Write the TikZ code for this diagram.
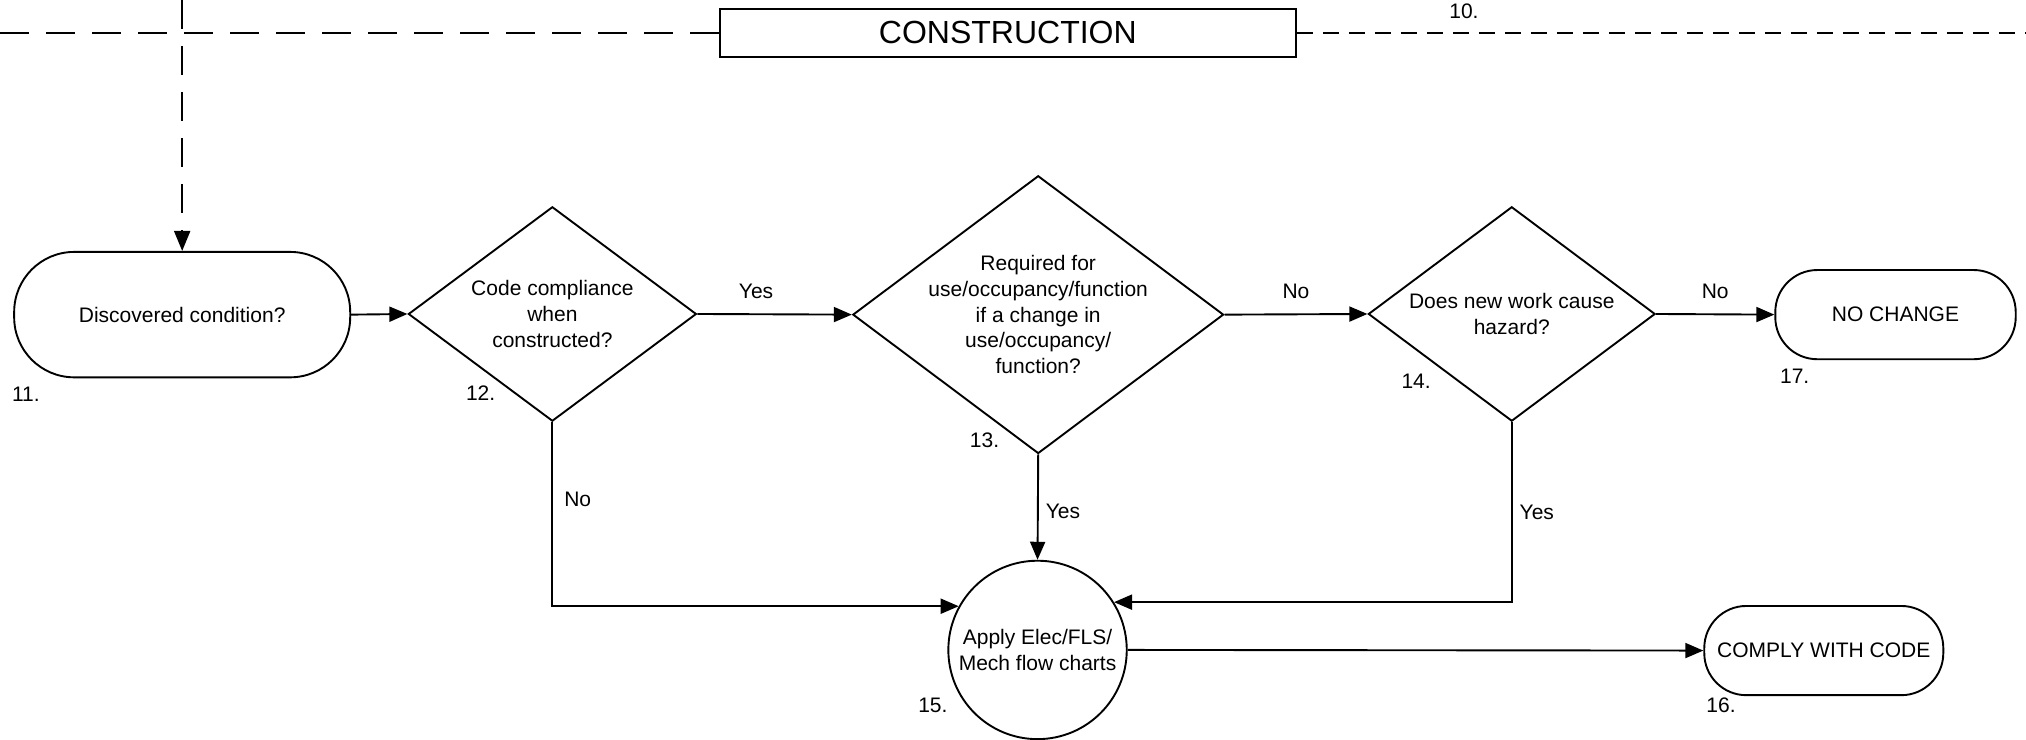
\documentclass[tikz,border=0pt]{standalone}
\usepackage{fontspec}
\setmainfont{Liberation Sans}
\usetikzlibrary{shapes.geometric,arrows.meta}
\begin{document}
\begin{tikzpicture}[x=0.646pt,y=-0.646pt,
  every node/.style={font=\fontsize{10.5}{12.9}\selectfont, inner sep=0pt},
  termbox/.style={draw, line width=0.95pt, rectangle, align=center},
  decision/.style={draw, line width=0.95pt, diamond},
  flowarrow/.style={line width=0.95pt, -{Triangle[length=9pt,width=7.5pt]}},
  longdash/.style={line width=0.95pt, dash pattern=on 14.5pt off 8.5pt},
  shortdash/.style={line width=0.95pt, dash pattern=on 8pt off 5pt},
  edgelbl/.style={anchor=west, xshift=3.5pt}
]
\useasboundingbox (0,0) rectangle (1568,572);

% header
\node[draw, line width=1.05pt, minimum width=288pt, minimum height=23.9pt,
      font=\fontsize{16}{19}\selectfont] (con) at (780,25.5) {CONSTRUCTION};
\coordinate (lft) at (0,25.5);
\coordinate (rgt) at (1568,25.5);
\coordinate (topc) at (141,0);
\draw[longdash] (lft) -- (con.west);
\draw[shortdash] (con.east) -- (rgt);
\node (l10) at (1133,8.5) {10.};

% nodes
\node[termbox, minimum width=168pt, minimum height=62.7pt, rounded corners=30pt]
  (n11) at (141,243.5) {Discovered condition?};
\node[decision, minimum width=144pt, minimum height=107.2pt] (d12) at (427.5,243) {};
\node[align=center] (t12) at (d12.center) {Code compliance\\when\\constructed?};
\node[decision, minimum width=185.4pt, minimum height=138.9pt] (d13) at (803.5,243.5) {};
\node[align=center] (t13) at (d13.center) {Required for\\use/occupancy/function\\if a change in\\use/occupancy/\\function?};
\node[decision, minimum width=143.4pt, minimum height=107.2pt] (d14) at (1170,243) {};
\node[align=center] (t14) at (d14.center) {Does new work cause\\hazard?};
\node[termbox, minimum width=120.2pt, minimum height=44.6pt, rounded corners=21pt]
  (n17) at (1467,243.5) {NO CHANGE};
\node[draw, line width=0.95pt, circle, minimum size=89.2pt, align=center]
  (c15) at (803,503) {Apply Elec/FLS/\\Mech flow charts};
\node[termbox, minimum width=119.5pt, minimum height=44.6pt, rounded corners=21pt]
  (n16) at (1411.5,503.5) {COMPLY WITH CODE};

% numbers
\node (l11) at (20,305) {11.};
\node (l12) at (372,304) {12.};
\node (l13) at (762,341) {13.};
\node (l14) at (1096,295) {14.};
\node (l17) at (1389,291) {17.};
\node (l15) at (722,546) {15.};
\node (l16) at (1332,546) {16.};

% connectors
\draw[longdash, -{Triangle[length=10pt,width=8pt]}] (topc) -- (n11.north);
\draw[flowarrow] (n11.east) -- (d12.west);
\draw[flowarrow] (d12.east) -- (d13.west) node[pos=0.38, yshift=11.6pt] {Yes};
\draw[flowarrow] (d13.east) -- (d14.west) node[pos=0.5, yshift=11.6pt] {No};
\draw[flowarrow] (d14.east) -- (n17.west) node[pos=0.5, yshift=11.6pt] {No};
\draw[flowarrow] (d12.south) |- (c15.151) node[pos=0.21, edgelbl, xshift=2pt] {No};
\draw[flowarrow] (d13.south) -- (c15.north) node[pos=0.54, edgelbl] {Yes};
\draw[flowarrow] (d14.south) |- (c15.32.4) node[pos=0.25, edgelbl] {Yes};
\draw[flowarrow] (c15.east) -- (n16.west);
\end{tikzpicture}
\end{document}
